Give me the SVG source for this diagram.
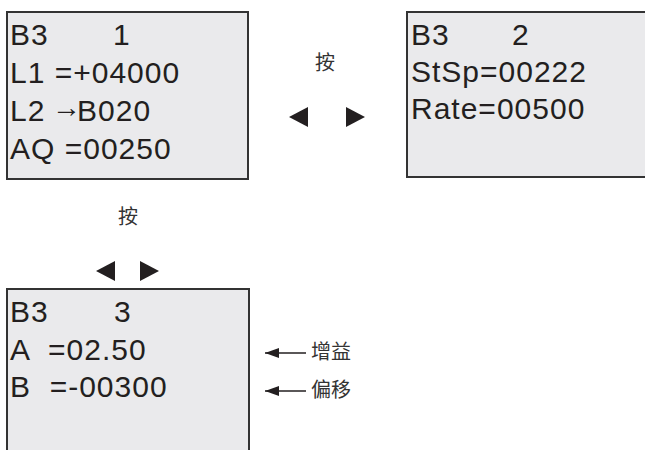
<svg xmlns="http://www.w3.org/2000/svg" width="645" height="450" viewBox="0 0 645 450">
<style>
.box{fill:#EAEAEC;stroke:#333;stroke-width:2}
.t{font-family:"Liberation Sans",Arial,sans-serif;font-size:30px;letter-spacing:1px;fill:#231F20;white-space:pre}
.cn{font-family:"Noto Sans CJK SC",sans-serif;font-size:20px;fill:#333}
.tri{fill:#231F20}
</style>
<defs>
<marker id="ah" markerWidth="14" markerHeight="10" refX="0" refY="5" orient="auto" markerUnits="userSpaceOnUse">
<path d="M14,0 L0,5 L14,10 Z" fill="#231F20"/>
</marker>
</defs>
<rect width="645" height="450" fill="#fff"/>
<g id="screen1">
<rect class="box" x="7" y="12" width="241" height="167"/>
<text class="t" x="10" y="45">B3</text>
<text class="t" x="113" y="45">1</text>
<text class="t" x="10" y="83">L1 =+04000</text>
<text class="t" x="10" y="121">L2<tspan x="52" y="117" font-size="29" letter-spacing="0">→</tspan><tspan x="77" y="121">B020</tspan></text>
<text class="t" x="10" y="159">AQ =00250</text>
</g>
<g id="screen2">
<rect class="box" x="407" y="12" width="250" height="165"/>
<text class="t" x="411" y="45">B3</text>
<text class="t" x="512" y="45">2</text>
<text class="t" x="411" y="82">StSp=00222</text>
<text class="t" x="411" y="119">Rate=00500</text>
</g>
<g id="screen3">
<rect class="box" x="7" y="289" width="242" height="175"/>
<text class="t" x="10" y="322">B3</text>
<text class="t" x="114" y="322">3</text>
<text class="t" x="10" y="360">A  =02.50</text>
<text class="t" x="10" y="397">B  =-00300</text>
</g>
<g id="nav1">
<text class="cn" x="325" y="70" text-anchor="middle">按</text>
<path class="tri" d="M289,117 L308,107 L308,127 Z"/>
<path class="tri" d="M365,117 L346,107 L346,127 Z"/>
</g>
<g id="nav2">
<text class="cn" x="128" y="224" text-anchor="middle">按</text>
<path class="tri" d="M96,271 L115,261 L115,281 Z"/>
<path class="tri" d="M159,271 L140,261 L140,281 Z"/>
</g>
<g id="connectors">
<line x1="265" y1="353" x2="306" y2="353" stroke="#231F20" stroke-width="1.5" marker-start="url(#ah)"/>
<line x1="265" y1="391" x2="306" y2="391" stroke="#231F20" stroke-width="1.5" marker-start="url(#ah)"/>
</g>
<g id="labels">
<text class="cn" x="311" y="359">增益</text>
<text class="cn" x="311" y="397">偏移</text>
</g>
</svg>
